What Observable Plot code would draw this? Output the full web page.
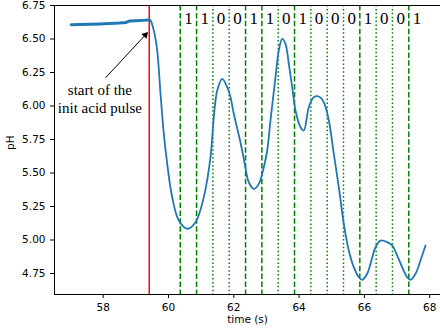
<!DOCTYPE html>
<html><head><meta charset="utf-8">
<script src="https://cdn.jsdelivr.net/npm/d3@7"></script>
<script src="https://cdn.jsdelivr.net/npm/@observablehq/plot@0.6"></script>
<style>body{margin:0;background:#fff}</style>
</head><body><div id="chart"></div>
<script>
// baseline (before the pulse)
const baseTime = [57.02, 57.30, 57.60, 57.90, 58.20, 58.50, 58.70, 58.80, 59.00, 59.20, 59.41];
const basePH   = [6.606, 6.608, 6.610, 6.612, 6.615, 6.619, 6.624, 6.634, 6.637, 6.639, 6.641];
// response after the pulse
const pulseTime = [59.41, 59.449, 59.550, 59.654, 59.755, 59.856, 59.960, 60.113, 60.315, 60.573, 60.827,
  61.081, 61.286, 61.387, 61.492, 61.645, 61.798, 61.899, 62.000, 62.205, 62.328, 62.459, 62.613, 62.766, 62.919,
  63.023, 63.124, 63.277, 63.378, 63.482, 63.583, 63.685, 63.789, 63.890, 64.043, 64.144, 64.297, 64.450, 64.603,
  64.757, 64.910, 65.063, 65.216, 65.369, 65.522, 65.675, 65.828, 65.932, 66.085, 66.187, 66.340, 66.493, 66.698,
  66.852, 67.005, 67.158, 67.311, 67.412, 67.565, 67.718, 67.871];
const pulsePH = [6.641, 6.638, 6.563, 6.414, 6.091, 5.793, 5.569, 5.319, 5.146, 5.084, 5.133,
  5.319, 5.618, 5.916, 6.116, 6.203, 6.140, 6.066, 5.942, 5.728, 5.578, 5.431, 5.382, 5.419, 5.543,
  5.668, 5.892, 6.215, 6.414, 6.501, 6.464, 6.315, 6.140, 5.966, 5.842, 5.817, 5.991, 6.066, 6.071,
  6.028, 5.892, 5.643, 5.394, 5.121, 4.922, 4.797, 4.722, 4.703, 4.748, 4.822, 4.946, 4.996, 4.984,
  4.959, 4.884, 4.797, 4.722, 4.703, 4.748, 4.847, 4.959];
const pulseStart = 59.41;
const bitLineTime = [60.36, 60.86, 61.36, 61.86, 62.36, 62.86, 63.36, 63.86, 64.36, 64.86, 65.36, 65.86, 66.36, 66.86, 67.36];
const bits = [1, 1, 0, 0, 1, 1, 0, 1, 0, 0, 0, 1, 0, 0, 1];
const xTicks = [58, 60, 62, 64, 66, 68];
const yTicks = [4.75, 5.00, 5.25, 5.50, 5.75, 6.00, 6.25, 6.50, 6.75];

const base = baseTime.map((t, i) => ({t, ph: basePH[i]}));
const pulse = pulseTime.map((t, i) => ({t, ph: pulsePH[i]}));
const bitRows = bitLineTime.map((t, i) => ({t, bit: bits[i]}));
const xDom = [56.508, 68.331], yDom = [4.5933, 6.75];

const chart = Plot.plot({
  width: 440, height: 335,
  marginLeft: 54, marginRight: 0, marginTop: 5, marginBottom: 41,
  style: {fontFamily: "DejaVu Sans", fontSize: "10.5px", background: "#fff", overflow: "visible"},
  x: {domain: xDom},
  y: {domain: yDom},
  marks: [
    Plot.ruleX(bitRows.filter(d => d.bit === 1), {x: "t", stroke: "#008000", strokeWidth: 1.5, strokeDasharray: "5.5,2.4"}),
    Plot.ruleX(bitRows.filter(d => d.bit === 0), {x: "t", stroke: "#008000", strokeWidth: 1.5, strokeDasharray: "1.5,2.4"}),
    Plot.ruleX([pulseStart], {stroke: "#ff0000", strokeWidth: 1.5}),
    Plot.line(base, {x: "t", y: "ph", stroke: "#1f77b4", strokeWidth: 3}),
    Plot.line(pulse, {x: "t", y: "ph", stroke: "#1f77b4", strokeWidth: 1.8, curve: "catmull-rom"}),
    Plot.text(bitRows, {x: d => d.t + 0.25, text: d => String(d.bit), frameAnchor: "top", dy: 18.3, lineAnchor: "bottom",
      fontFamily: "Liberation Serif", fontSize: 17, fill: "#000"}),
    Plot.text(["start of the\ninit acid pulse"], {x: [57.90], y: [6.06], text: d => d, fontFamily: "Liberation Serif",
      fontSize: 15, lineHeight: 1.23, fill: "#000"}),
    Plot.link([0], {x1: [58.07], y1: [6.21], x2: [59.29], y2: [6.53], stroke: "#000", strokeWidth: 1}),
    Plot.dot([0], {x: [59.29], y: [6.53], symbol: "triangle", r: 2.6, fill: "#000", stroke: "none", rotate: 42.8}),
    Plot.ruleX([xDom[0]], {stroke: "#000", strokeWidth: 1}),
    Plot.ruleY([yDom[0], yDom[1]], {stroke: "#000", strokeWidth: 1}),
    Plot.axisX({ticks: xTicks, tickSize: 4, tickPadding: 5, label: null}),
    Plot.axisY({ticks: yTicks, tickSize: 4, tickPadding: 5, tickFormat: d3.format(".2f"), label: null}),
    Plot.text(["time (s)"], {text: d => d, frameAnchor: "bottom", dy: 28, fill: "#000"}),
    Plot.text(["pH"], {text: d => d, frameAnchor: "left", dx: -44, rotate: -90, fill: "#000"})
  ]
});
document.getElementById("chart").appendChild(chart);
</script>
</body></html>
